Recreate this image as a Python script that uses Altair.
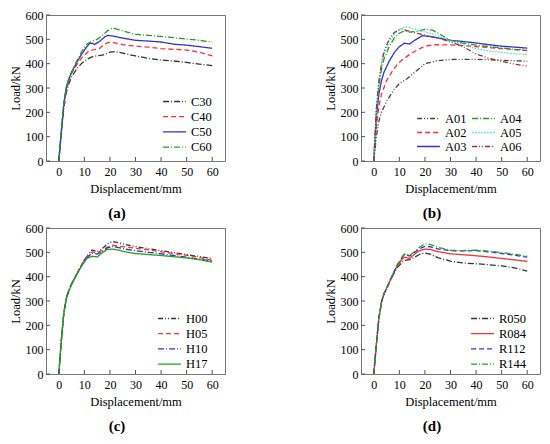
import altair as alt
import pandas as pd

# ---------------- data ----------------
# (a) concrete strength
a_names = ["C30", "C40", "C50", "C60"]
a_x = {
    "C30": [0, 1, 2, 3, 4, 5, 7, 9, 11, 13, 15, 17, 18, 20, 22, 25, 30, 35, 40, 45, 50, 55, 60],
    "C40": [0, 1, 2, 3, 4, 5, 7, 9, 11, 12, 14, 16, 18, 20, 22, 25, 30, 35, 40, 45, 50, 55, 60],
    "C50": [0, 1, 2, 3, 4, 5, 7, 9, 11, 12, 13, 14, 16, 18, 19, 21, 25, 30, 35, 40, 45, 50, 55, 60],
    "C60": [0, 1, 2, 3, 4, 5, 7, 9, 11, 13, 15, 17, 19, 21, 23, 26, 30, 35, 40, 45, 50, 55, 60],
}
a_y = {
    "C30": [0, 110, 220, 285, 320, 345, 378, 402, 418, 428, 433, 435, 438, 447, 450, 443, 432, 422, 415, 411, 405, 398, 392],
    "C40": [0, 120, 235, 300, 335, 360, 395, 425, 445, 455, 458, 463, 482, 489, 485, 478, 472, 468, 462, 459, 456, 447, 432],
    "C50": [0, 125, 240, 305, 340, 365, 405, 440, 470, 483, 484, 479, 492, 510, 516, 514, 505, 496, 493, 489, 480, 476, 470, 463],
    "C60": [0, 125, 240, 305, 340, 365, 410, 450, 480, 493, 500, 515, 535, 546, 541, 532, 521, 516, 512, 507, 501, 496, 489],
}
a_colors = ["#333333", "#ff3030", "#3030d0", "#20a020"]

# (b)
b_names = ["A01", "A02", "A03", "A04", "A05", "A06"]
b_x = {
    "A01": [0, 1, 2, 3, 5, 8, 10, 13, 15, 18, 20, 25, 30, 35, 40, 45, 50, 55, 60],
    "A02": [0, 1, 2, 3, 5, 7, 9, 11, 13, 15, 18, 20, 24, 30, 35, 40, 45, 50, 55, 60],
    "A03": [0, 1, 2, 3, 4, 6, 8, 10, 12, 14, 16, 19, 22, 25, 30, 35, 40, 45, 50, 55, 60],
    "A04": [0, 1, 2, 3, 4, 6, 8, 10, 12, 14, 17, 20, 23, 26, 30, 35, 40, 45, 50, 55, 60],
    "A05": [0, 1, 2, 3, 4, 6, 8, 10, 12, 13, 15, 18, 21, 25, 30, 35, 40, 45, 50, 55, 60],
    "A06": [0, 1, 2, 3, 4, 6, 8, 10, 11, 13, 15, 18, 21, 25, 30, 35, 40, 45, 50, 55, 60],
}
b_y = {
    "A01": [0, 100, 165, 200, 245, 295, 318, 338, 356, 382, 400, 412, 417, 418, 418, 416, 414, 412, 410],
    "A02": [0, 140, 225, 275, 330, 365, 395, 415, 430, 445, 462, 472, 478, 477, 474, 470, 466, 462, 458, 454],
    "A03": [0, 180, 275, 330, 365, 410, 445, 470, 484, 481, 496, 515, 512, 506, 496, 491, 485, 478, 472, 468, 464],
    "A04": [0, 200, 310, 375, 420, 470, 505, 525, 535, 530, 532, 542, 538, 520, 496, 484, 476, 470, 465, 459, 454],
    "A05": [0, 210, 320, 395, 440, 490, 520, 540, 549, 551, 545, 535, 528, 515, 494, 478, 462, 452, 446, 441, 438],
    "A06": [0, 215, 330, 400, 450, 500, 528, 540, 542, 536, 530, 522, 514, 506, 490, 470, 440, 422, 410, 398, 390],
}
b_colors = ["#444444", "#ff3030", "#3030d0", "#20a020", "#40e0e0", "#993333"]

# (c)
c_names = ["H00", "H05", "H10", "H17"]
c_xs = [0, 1, 2, 3, 4, 5, 7, 9, 11, 13, 15, 17, 19, 21, 23, 26, 30, 35, 40, 45, 50, 55, 60]
c_y = {
    "H00": [0, 140, 255, 315, 345, 370, 410, 450, 485, 510, 503, 515, 535, 545, 540, 532, 524, 515, 507, 499, 491, 483, 474],
    "H05": [0, 140, 255, 315, 345, 370, 410, 450, 483, 502, 498, 508, 522, 529, 526, 522, 517, 510, 502, 495, 488, 479, 467],
    "H10": [0, 140, 255, 315, 345, 370, 410, 448, 478, 497, 493, 503, 518, 524, 520, 513, 507, 500, 494, 487, 480, 472, 464],
    "H17": [0, 135, 250, 310, 342, 368, 408, 445, 475, 484, 481, 498, 512, 513, 510, 502, 495, 491, 487, 482, 477, 470, 460],
}
c_colors = ["#333333", "#ff3030", "#3030d0", "#20a020"]

# (d)
d_names = ["R050", "R084", "R112", "R144"]
d_xs = [0, 1, 2, 3, 4, 5, 7, 9, 11, 12, 14, 16, 18, 20, 22, 25, 30, 35, 40, 45, 50, 55, 60]
d_y = {
    "R050": [0, 120, 230, 295, 330, 350, 395, 435, 458, 467, 470, 480, 492, 497, 493, 478, 464, 456, 453, 449, 444, 436, 423],
    "R084": [0, 120, 230, 295, 330, 352, 398, 440, 470, 480, 475, 493, 508, 513, 512, 503, 494, 490, 486, 481, 475, 469, 463],
    "R112": [0, 120, 230, 295, 330, 352, 400, 445, 478, 491, 485, 500, 515, 524, 523, 514, 507, 506, 507, 502, 495, 488, 480],
    "R144": [0, 120, 230, 295, 330, 352, 400, 445, 480, 493, 487, 503, 522, 534, 533, 521, 508, 507, 509, 505, 499, 492, 484],
}
d_colors = ["#333333", "#ff3030", "#3030d0", "#20a020"]

x_ticks = [0, 10, 20, 30, 40, 50, 60]
y_ticks = [0, 100, 200, 300, 400, 500, 600]

DASH = [6, 2, 1, 2]
DASH2 = [5, 2, 1, 2, 1, 2]
DASHED = [5, 3]
DOT = [1.5, 1.5]
SOLID = [1, 0]

a_dash = [DASH, DASHED, SOLID, DASH]
b_dash = [DASH2, DASHED, SOLID, DASH, DOT, DASH2]
c_dash = [DASH2, DASHED, DASH, SOLID]
d_dash = [DASH, SOLID, DASHED, DASH]

W, H = 179, 146
FONT = "Liberation Serif"


def frame(names, xs, ys, key):
    rows = []
    for n in names:
        xx = xs[n] if isinstance(xs, dict) else xs
        for i, (xv, yv) in enumerate(zip(xx, ys[n])):
            rows.append({"x": xv, "y": yv, key: n, "o": i})
    return pd.DataFrame(rows)


def panel(df, key, names, colors, dashes, label, lx, ly, cols=1, widths=None, rowpad=2.2):
    xs = alt.Scale(domain=[-5, 65], nice=False, zero=False)
    ys = alt.Scale(domain=[0, 600], nice=False)
    xax = alt.Axis(values=x_ticks, title="Displacement/mm", labelOverlap=False,
                   labelPadding=5, titlePadding=5)
    yax = alt.Axis(values=y_ticks, title="Load/kN", labelOverlap=False,
                   labelPadding=3, titlePadding=3)
    leg = alt.Legend(
        title=None, orient="none", legendX=lx, legendY=ly, columns=cols,
        symbolType="stroke", symbolSize=520, symbolStrokeWidth=1.3, clipHeight=13,
        labelFont=FONT, labelFontSize=12.5, labelColor="black",
        rowPadding=rowpad, columnPadding=4, labelOffset=4, padding=0,
    )
    base = alt.Chart(df).mark_line(strokeWidth=1.3).encode(
        x=alt.X("x:Q", scale=xs, axis=xax),
        y=alt.Y("y:Q", scale=ys, axis=yax),
        color=alt.Color(f"{key}:N", scale=alt.Scale(domain=names, range=colors), legend=leg),
        strokeDash=alt.StrokeDash(f"{key}:N", scale=alt.Scale(domain=names, range=dashes), legend=leg),
        order="o:Q",
    )
    if widths is not None:
        base = base.encode(strokeWidth=alt.StrokeWidth(f"{key}:N", scale=alt.Scale(domain=names, range=widths), legend=None))
    xt = alt.Chart(pd.DataFrame({"x": x_ticks})).mark_rule(color="#555", strokeWidth=1).encode(
        x=alt.X("x:Q", scale=xs, axis=xax), y=alt.value(H), y2=alt.value(H - 4))
    yt = alt.Chart(pd.DataFrame({"y": y_ticks})).mark_rule(color="#555", strokeWidth=1).encode(
        y=alt.Y("y:Q", scale=ys, axis=yax), x=alt.value(0), x2=alt.value(4))
    return alt.layer(base, xt, yt).properties(
        width=W, height=H,
        title=alt.TitleParams(label, orient="bottom", frame="bounds", anchor="middle",
                              font=FONT, fontSize=15, fontWeight="bold", offset=11),
    )


pa = panel(frame(a_names, a_x, a_y, "sa"), "sa", a_names, a_colors, a_dash, "(a)", 116, 80)
pb = panel(frame(b_names, b_x, b_y, "sb"), "sb", b_names, b_colors, b_dash, "(b)", 55, 97, cols=2,
           widths=[1.3, 1.3, 1.9, 1.3, 1.3, 1.3], rowpad=1)
pc = panel(frame(c_names, c_xs, c_y, "sc"), "sc", c_names, c_colors, c_dash, "(c)", 111, 84)
pd_ = panel(frame(d_names, d_xs, d_y, "sd"), "sd", d_names, d_colors, d_dash, "(d)", 109, 84)

row1 = alt.hconcat(pa, pb, spacing=97).resolve_scale(color="independent", strokeDash="independent")
row2 = alt.hconcat(pc, pd_, spacing=97).resolve_scale(color="independent", strokeDash="independent")

chart = alt.vconcat(row1, row2, spacing=0).resolve_scale(
    color="independent", strokeDash="independent"
).properties(padding={"left": 0, "top": 0, "right": 0, "bottom": 0}).configure(
    font=FONT,
).configure_view(stroke="#777", strokeWidth=1).configure_axis(
    domain=False, ticks=False, grid=False, labelFont=FONT, labelFontSize=12, labelColor="black",
    labelOverlap=False, labelFlush=False,
    titleFont=FONT, titleFontSize=12.5, titleFontWeight="normal", titleColor="black",
)

chart.save("out.html", embed_options={"renderer": "svg", "actions": False})
